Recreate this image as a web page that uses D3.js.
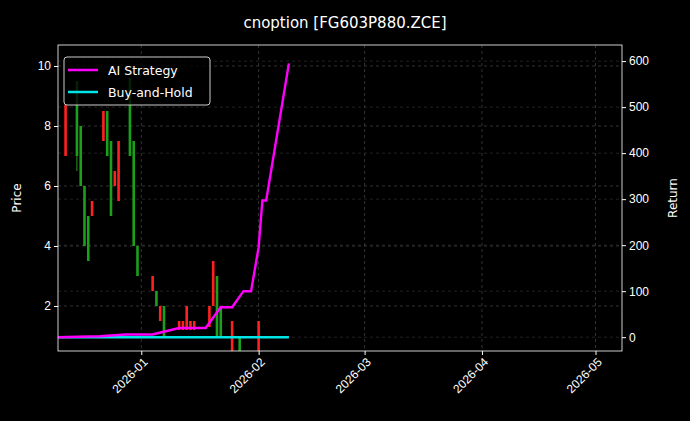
<!DOCTYPE html>
<html><head><meta charset="utf-8">
<script src="https://cdn.jsdelivr.net/npm/d3@7"></script>
<style>body{margin:0;background:#000}svg{display:block;font-family:"DejaVu Sans",sans-serif}</style>
</head><body><svg id="c" width="690" height="421"></svg>
<script>
// candles: date, open, close, high, low
const candleDates=["2025-12-12","2025-12-15","2025-12-16","2025-12-17","2025-12-18","2025-12-19","2025-12-22","2025-12-23","2025-12-24","2025-12-25","2025-12-26","2025-12-29","2025-12-30","2025-12-31","2026-01-04","2026-01-05","2026-01-06","2026-01-07","2026-01-11","2026-01-12","2026-01-13","2026-01-14","2026-01-15","2026-01-19","2026-01-20","2026-01-21","2026-01-22","2026-01-25","2026-01-27","2026-02-01"];
const candleOpen =[7.0,9.5,8.0,6.0,5.0,5.0,7.5,8.5,7.5,6.0,5.5,9.6,7.5,4.0,2.5,2.5,1.5,2.0,1.2,1.2,1.2,1.2,1.2,1.3,2.0,3.0,2.0,0.5,1.0,0.5];
const candleClose=[8.7,7.0,6.0,4.0,3.5,5.5,8.5,7.0,5.0,6.5,7.5,7.0,4.0,3.0,3.0,2.0,2.0,1.0,1.5,1.5,2.0,1.5,1.5,2.0,3.5,1.0,1.0,1.5,0.5,1.5];
const candleHigh =[8.7,9.5,8.0,6.0,5.0,5.5,8.5,8.5,7.5,6.5,7.5,9.6,7.5,4.0,3.0,2.5,2.0,2.0,1.5,1.5,2.0,1.5,1.5,2.0,3.5,3.0,2.0,1.5,1.0,1.5];
const candleLow  =[7.0,6.5,6.0,4.0,3.5,5.0,7.5,7.0,5.0,6.0,5.5,7.0,4.0,3.0,2.5,2.0,1.5,1.0,1.2,1.2,1.2,1.2,1.2,1.3,2.0,1.0,1.0,0.5,0.5,0.5];
// returns
const aiDates=["2025-12-10","2025-12-21","2025-12-28","2026-01-04","2026-01-05","2026-01-11","2026-01-18","2026-01-22","2026-01-25","2026-01-28","2026-01-30","2026-02-01","2026-02-02","2026-02-03","2026-02-09"];
const aiReturn=[0,2,6,6,8,20,20,65,65,100,100,195,297,297,595];
const bhDates=["2025-12-10","2026-02-09"];
const bhReturn=[0,0];
const xTicks=["2026-01-01","2026-02-01","2026-03-01","2026-04-01","2026-05-01"];
const priceTicks=[2,4,6,8,10];
const returnTicks=[0,100,200,300,400,500,600];

const svg=d3.select("#c");
const L=58,R=622,T=45,B=351;
const p=d3.timeParse("%Y-%m-%d");
const x=d3.scaleTime().domain([p("2025-12-10"),p("2026-05-08")]).range([L,R]);
const y=d3.scaleLinear().domain([0.5,10.7]).range([B,T]);
const y2=d3.scaleLinear().domain([-30,635]).range([B,T]);
svg.append("rect").attr("width",690).attr("height",421).attr("fill","#000");
const g=svg.append("g");
const grid="#555";
xTicks.forEach(d=>g.append("line").attr("x1",x(p(d))).attr("x2",x(p(d))).attr("y1",T).attr("y2",B).attr("stroke",grid).attr("stroke-dasharray","3,3").attr("stroke-width",0.6));
priceTicks.forEach(d=>g.append("line").attr("x1",L).attr("x2",R).attr("y1",y(d)).attr("y2",y(d)).attr("stroke",grid).attr("stroke-dasharray","3,3").attr("stroke-width",0.6));
returnTicks.forEach(d=>g.append("line").attr("x1",L).attr("x2",R).attr("y1",y2(d)).attr("y2",y2(d)).attr("stroke","#444").attr("stroke-dasharray","3,3").attr("stroke-width",0.5));
svg.append("clipPath").attr("id","cp").append("rect").attr("x",L).attr("y",T).attr("width",R-L).attr("height",B-T);
const cg=svg.append("g").attr("clip-path","url(#cp)");
candleDates.forEach((d,i)=>{
  const col=candleClose[i]>=candleOpen[i]?"#ff2020":"#1aa01a";
  const cx=x(p(d));
  cg.append("line").attr("x1",cx).attr("x2",cx).attr("y1",y(candleHigh[i])).attr("y2",y(candleLow[i])).attr("stroke",col).attr("stroke-width",1);
  const a=y(Math.max(candleOpen[i],candleClose[i])),b=y(Math.min(candleOpen[i],candleClose[i]));
  cg.append("rect").attr("x",cx-1.3).attr("width",2.6).attr("y",a).attr("height",Math.max(1,b-a)).attr("fill",col);
});
const line=d3.line().x(d=>x(p(d[0]))).y(d=>y2(d[1]));
cg.append("path").attr("d",line(bhDates.map((d,i)=>[d,bhReturn[i]]))).attr("fill","none").attr("stroke","#00e5e5").attr("stroke-width",2.4);
cg.append("path").attr("d",line(aiDates.map((d,i)=>[d,aiReturn[i]]))).attr("fill","none").attr("stroke","#ff00ff").attr("stroke-width",2.4);
svg.append("rect").attr("x",L).attr("y",T).attr("width",R-L).attr("height",B-T).attr("fill","none").attr("stroke","#fff").attr("stroke-width",0.8);
const fmt=d3.timeFormat("%Y-%m");
const ax=svg.append("g").attr("transform",`translate(0,${B})`).call(d3.axisBottom(x).tickValues(xTicks.map(p)).tickFormat(fmt).tickSize(4));
ax.selectAll("text").attr("transform","rotate(-45)").style("text-anchor","end").attr("dx","-0.3em").attr("dy","0.5em");
const ay=svg.append("g").attr("transform",`translate(${L},0)`).call(d3.axisLeft(y).tickValues(priceTicks).tickSize(4));
const ay2=svg.append("g").attr("transform",`translate(${R},0)`).call(d3.axisRight(y2).tickValues(returnTicks).tickSize(4));
[ax,ay,ay2].forEach(a=>{a.select(".domain").remove();a.selectAll("line").attr("stroke","#fff");a.selectAll("text").attr("fill","#fff").style("font-size","12px");});
svg.append("text").attr("x",345).attr("y",28).attr("text-anchor","middle").attr("fill","#fff").style("font-size","15px").text("cnoption [FG603P880.ZCE]");
svg.append("text").attr("transform","translate(21,198) rotate(-90)").attr("text-anchor","middle").attr("fill","#fff").style("font-size","12px").text("Price");
svg.append("text").attr("transform","translate(677,198) rotate(-90)").attr("text-anchor","middle").attr("fill","#fff").style("font-size","12px").text("Return");
const lg=svg.append("g");
lg.append("rect").attr("x",64).attr("y",57).attr("width",146).attr("height",48).attr("rx",3).attr("fill","#000").attr("fill-opacity",0.8).attr("stroke","#ccc");
[["AI Strategy","#ff00ff"],["Buy-and-Hold","#00e5e5"]].forEach((d,i)=>{
  const yy=70+i*22;
  lg.append("line").attr("x1",68).attr("x2",98).attr("y1",yy).attr("y2",yy).attr("stroke",d[1]).attr("stroke-width",2.5);
  lg.append("text").attr("x",108).attr("y",yy+4.5).attr("fill","#fff").style("font-size","12.5px").text(d[0]);
});
</script></body></html>
